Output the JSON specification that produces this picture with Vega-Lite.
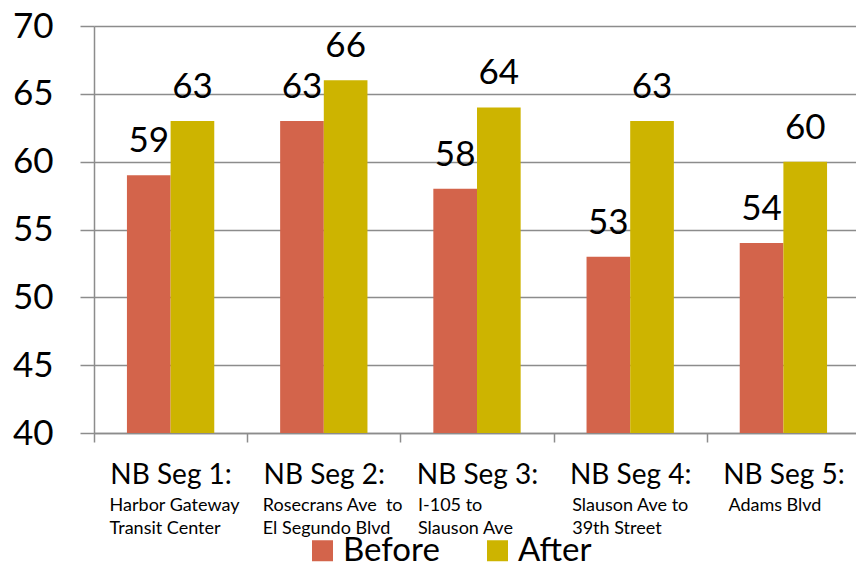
{
  "$schema": "https://vega.github.io/schema/vega-lite/v6.json",
  "width": 766,
  "height": 407,
  "autosize": {"type": "none"},
  "padding": {"left": 94, "top": 26, "right": 0, "bottom": 132},
  "background": "white",
  "config": {
    "font": "Lato",
    "view": {"stroke": null},
    "axis": {"labelColor": "black", "title": null}
  },
  "data": {
    "values": [
      {"segment": "NB Seg 1:|Harbor Gateway|Transit Center", "period": "Before", "value": 59},
      {"segment": "NB Seg 1:|Harbor Gateway|Transit Center", "period": "After", "value": 63},
      {"segment": "NB Seg 2:|Rosecrans Ave\u2005 to|El Segundo Blvd", "period": "Before", "value": 63},
      {"segment": "NB Seg 2:|Rosecrans Ave\u2005 to|El Segundo Blvd", "period": "After", "value": 66},
      {"segment": "NB Seg 3:|\u2002I-105 to|Slauson Ave", "period": "Before", "value": 58},
      {"segment": "NB Seg 3:|\u2002I-105 to|Slauson Ave", "period": "After", "value": 64},
      {"segment": "NB Seg 4:|Slauson Ave to|39th Street", "period": "Before", "value": 53},
      {"segment": "NB Seg 4:|Slauson Ave to|39th Street", "period": "After", "value": 63},
      {"segment": "NB Seg 5:|Adams Blvd", "period": "Before", "value": 54},
      {"segment": "NB Seg 5:|Adams Blvd", "period": "After", "value": 60}
    ]
  },
  "encoding": {
    "xOffset": {"field": "period", "type": "nominal", "sort": ["Before", "After"], "scale": {"paddingInner": 0, "paddingOuter": 0}},
    "y": {
      "field": "value",
      "type": "quantitative",
      "scale": {"domain": [40, 70], "nice": false, "zero": false},
      "axis": {
        "values": [40, 45, 50, 55, 60, 65, 70],
        "grid": true,
        "gridColor": "#8c8c8c",
        "gridWidth": 1.5,
        "tickSize": 14,
        "tickColor": "#8c8c8c",
        "tickWidth": 1.5,
        "domainColor": "#8c8c8c",
        "domainWidth": 1.5,
        "labelFontSize": 35,
        "labelPadding": 27
      }
    }
  },
  "layer": [
    {
      "mark": {"type": "bar"},
      "encoding": {
        "x": {
          "field": "segment",
          "type": "nominal",
          "sort": null,
          "scale": {"paddingInner": 0.43, "paddingOuter": 0.215},
          "axis": {
            "labelExpr": "split(datum.label, '|')[0]",
            "labelAngle": 0,
            "labelAlign": "center",
            "labelBaseline": "alphabetic",
            "labelFontSize": 28,
            "labelPadding": 41,
            "labelLimit": 0,
            "labelOverlap": false,
            "labelBound": false,
            "tickOffset": -76.6,
            "labelOffset": 76.6,
            "tickSize": 9,
            "tickColor": "#8c8c8c",
            "tickWidth": 1.5,
            "domainColor": "#8c8c8c",
            "domainWidth": 1.5,
            "grid": false
          }
        },
        "y2": {"datum": 40},
        "color": {
          "field": "period",
          "type": "nominal",
          "sort": ["Before", "After"],
          "scale": {"domain": ["Before", "After"], "range": ["#D3644B", "#CDB400"]},
          "legend": {
            "title": null,
            "orient": "none",
            "direction": "horizontal",
            "legendX": 212,
            "legendY": 508,
            "padding": 0,
            "offset": 0,
            "symbolType": "square",
            "symbolSize": 441,
            "symbolStrokeWidth": 0,
            "labelFontSize": 33,
            "labelOffset": 4,
            "columnPadding": 41,
            "labelColor": "black"
          }
        }
      }
    },
    {
      "mark": {"type": "text", "baseline": "alphabetic", "dy": -23, "fontSize": 35, "color": "black"},
      "encoding": {
        "x": {
          "field": "segment",
          "type": "nominal",
          "sort": null,
          "axis": {
            "orient": "bottom",
            "labelExpr": "slice(split(datum.label, '|'), 1)",
            "labelAngle": 0,
            "labelAlign": "left",
            "labelOffset": {
              "condition": [
                {"test": "indexof(datum.value, 'NB Seg 3') >= 0", "value": -59},
                {"test": "indexof(datum.value, 'NB Seg 4') >= 0", "value": -58},
                {"test": "indexof(datum.value, 'NB Seg 5') >= 0", "value": -55}
              ],
              "value": -61
            },
            "labelBaseline": "alphabetic",
            "labelFontSize": 18,
            "labelLineHeight": 23,
            "labelPadding": 77,
            "labelLimit": 0,
            "labelOverlap": false,
            "labelBound": false,
            "ticks": false,
            "domain": false,
            "grid": false
          }
        },
        "text": {"field": "value", "type": "quantitative"}
      }
    }
  ],
  "resolve": {"axis": {"x": "independent"}}
}
